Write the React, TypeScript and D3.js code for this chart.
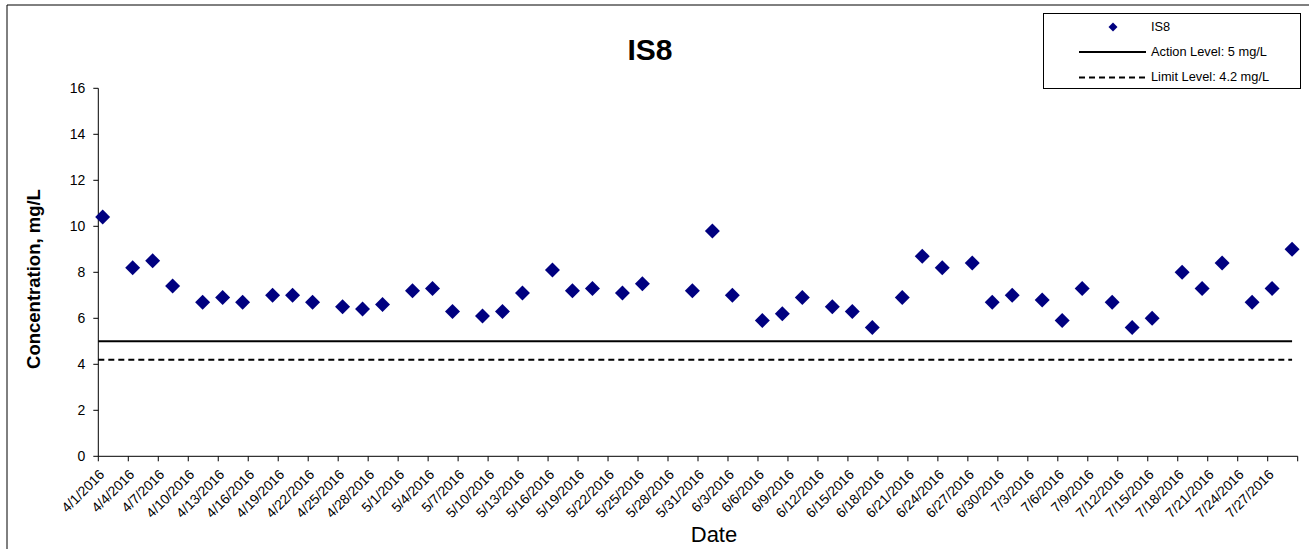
import React from "react";
import * as d3 from "d3";

const sampleDates: string[] = [
  "2016-04-01T10:30", "2016-04-04T10:30", "2016-04-06T10:30", "2016-04-08T10:30",
  "2016-04-11T10:30", "2016-04-13T10:30", "2016-04-15T10:30", "2016-04-18T10:30",
  "2016-04-20T10:30", "2016-04-22T10:30", "2016-04-25T10:30", "2016-04-27T10:30",
  "2016-04-29T10:30", "2016-05-02T10:30", "2016-05-04T10:30", "2016-05-06T10:30",
  "2016-05-09T10:30", "2016-05-11T10:30", "2016-05-13T10:30", "2016-05-16T10:30",
  "2016-05-18T10:30", "2016-05-20T10:30", "2016-05-23T10:30", "2016-05-25T10:30",
  "2016-05-30T10:30", "2016-06-01T10:30", "2016-06-03T10:30", "2016-06-06T10:30",
  "2016-06-08T10:30", "2016-06-10T10:30", "2016-06-13T10:30", "2016-06-15T10:30",
  "2016-06-17T10:30", "2016-06-20T10:30", "2016-06-22T10:30", "2016-06-24T10:30",
  "2016-06-27T10:30", "2016-06-29T10:30", "2016-07-01T10:30", "2016-07-04T10:30",
  "2016-07-06T10:30", "2016-07-08T10:30", "2016-07-11T10:30", "2016-07-13T10:30",
  "2016-07-15T10:30", "2016-07-18T10:30", "2016-07-20T10:30", "2016-07-22T10:30",
  "2016-07-25T10:30", "2016-07-27T10:30", "2016-07-29T10:30",
];

const is8Values: number[] = [
  10.4, 8.2, 8.5, 7.4,
  6.7, 6.9, 6.7, 7.0,
  7.0, 6.7, 6.5, 6.4,
  6.6, 7.2, 7.3, 6.3,
  6.1, 6.3, 7.1, 8.1,
  7.2, 7.3, 7.1, 7.5,
  7.2, 9.8, 7.0, 5.9,
  6.2, 6.9, 6.5, 6.3,
  5.6, 6.9, 8.7, 8.2,
  8.4, 6.7, 7.0, 6.8,
  5.9, 7.3, 6.7, 5.6,
  6.0, 8.0, 7.3, 8.4,
  6.7, 7.3, 9.0,
];

const actionLevel = 5;
const limitLevel = 4.2;
const yTicks: number[] = [0, 2, 4, 6, 8, 10, 12, 14, 16];
const xStart = "2016-04-01T00:00";
const xEnd = "2016-07-30T00:00";
const tickEveryDays = 3;
const lastLabeledTick = "2016-07-27T00:00";

const titleText = "IS8";
const yLabel = "Concentration, mg/L";
const xLabel = "Date";
const legendLabels = ["IS8", "Action Level: 5 mg/L", "Limit Level: 4.2 mg/L"];

const FONT = "'Liberation Sans', Arial, sans-serif";

export default function App() {
  const W = 1309;
  const H = 549;
  const left = 98.3;
  const right = 1297.7;
  const top = 88.3;
  const bottom = 456.3;

  const parse = (s: string) => new Date(s);
  const x = d3.scaleTime().domain([parse(xStart), parse(xEnd)]).range([left, right]);
  const y = d3.scaleLinear().domain([0, 16]).range([bottom, top]);

  const xTicks = d3.timeDay.range(parse(xStart), d3.timeDay.offset(parse(xEnd), 1), tickEveryDays);
  const lastLab = parse(lastLabeledTick).getTime();
  const fmt = d3.timeFormat("%-m/%-d/%Y");

  const diamond = d3.symbol().type(d3.symbolSquare).size(112)();
  const legendDiamond = d3.symbol().type(d3.symbolSquare).size(40)();

  const lineStart = x(parse(xStart));
  const lineEnd = x(parse(sampleDates[sampleDates.length - 1]));

  return (
    <svg
      width={W}
      height={H}
      style={{ position: "absolute", left: 0, top: 0, background: "#fff" }}
      fontFamily={FONT}
    >
      <rect x={0} y={0} width={W} height={H} fill="#fff" />
      {/* chart border */}
      <line x1={7} y1={5} x2={W} y2={5} stroke="#000" strokeWidth={1} />
      <line x1={7} y1={5} x2={7} y2={H} stroke="#000" strokeWidth={1} />

      {/* title */}
      <text x={650} y={60} textAnchor="middle" fontSize={30} fontWeight="bold">
        {titleText}
      </text>

      {/* y axis */}
      <line x1={left} y1={top} x2={left} y2={bottom} stroke="#000" strokeWidth={1} />
      {yTicks.map((t) => (
        <g key={t}>
          <line x1={left - 5} x2={left} y1={y(t)} y2={y(t)} stroke="#000" />
          <text x={left - 13} y={y(t)} dy="0.35em" textAnchor="end" fontSize={14}>
            {t}
          </text>
        </g>
      ))}

      {/* x axis */}
      <line x1={left} y1={bottom} x2={right} y2={bottom} stroke="#000" strokeWidth={1} />
      {xTicks.map((t, i) => {
        const tx = x(t);
        return (
          <g key={i}>
            <line x1={tx} x2={tx} y1={bottom} y2={bottom + 5} stroke="#000" />
            {t.getTime() <= lastLab && (
              <text
                transform={`translate(${tx + 7},${bottom + 19}) rotate(-45)`}
                textAnchor="end"
                fontSize={13.8}
              >
                {fmt(t)}
              </text>
            )}
          </g>
        );
      })}

      {/* reference lines */}
      <line x1={lineStart} x2={lineEnd} y1={y(actionLevel)} y2={y(actionLevel)} stroke="#000" strokeWidth={2} />
      <line
        x1={lineStart}
        x2={lineEnd}
        y1={y(limitLevel)}
        y2={y(limitLevel)}
        stroke="#000"
        strokeWidth={2}
        strokeDasharray="6,4"
      />

      {/* points */}
      {sampleDates.map((d, i) => (
        <path
          key={i}
          d={diamond || ""}
          transform={`translate(${x(parse(d))},${y(is8Values[i])}) rotate(45)`}
          fill="#000080"
        />
      ))}

      {/* axis labels */}
      <text
        transform={`translate(40,279) rotate(-90)`}
        textAnchor="middle"
        fontSize={18.5}
        fontWeight="bold"
      >
        {yLabel}
      </text>
      <text x={714} y={542} textAnchor="middle" fontSize={22}>
        {xLabel}
      </text>

      {/* legend */}
      <rect x={1043.5} y={13.5} width={257} height={75} fill="#fff" stroke="#000" strokeWidth={1} />
      <path d={legendDiamond || ""} transform="translate(1113,27) rotate(45)" fill="#000080" />
      <text x={1151} y={27} dy="0.35em" fontSize={12.8}>
        {legendLabels[0]}
      </text>
      <line x1={1079} x2={1146} y1={52} y2={52} stroke="#000" strokeWidth={2} />
      <text x={1151} y={52} dy="0.35em" fontSize={12.8}>
        {legendLabels[1]}
      </text>
      <line x1={1079} x2={1146} y1={77.5} y2={77.5} stroke="#000" strokeWidth={2} strokeDasharray="6,4" />
      <text x={1151} y={77} dy="0.35em" fontSize={12.8}>
        {legendLabels[2]}
      </text>
    </svg>
  );
}
